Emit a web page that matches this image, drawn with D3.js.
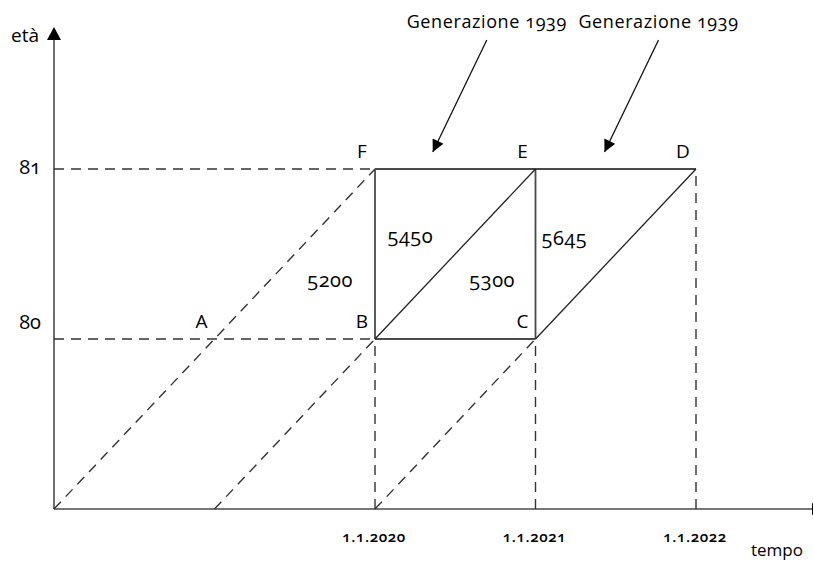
<!DOCTYPE html>
<html>
<head>
<meta charset="utf-8">
<script src="https://cdn.jsdelivr.net/npm/d3@7"></script>
<style>
  body { margin: 0; background: #fff; }
  text { font-family: "Open Sans", sans-serif; font-feature-settings: "onum"; fill: #000; }
</style>
</head>
<body>
<svg id="chart"></svg>
<script>
// tempo (anni) e età
var years = [2020, 2021, 2022];
var yearLabels = ["1.1.2020", "1.1.2021", "1.1.2022"];
var ages = [80, 81];

// punti del diagramma di Lexis [tempo, età]
var pointNames = ["A", "B", "C", "D", "E", "F"];
var pointCoords = [[2019, 80], [2020, 80], [2021, 80], [2022, 81], [2021, 81], [2020, 81]];

// segmenti pieni e tratteggiati [[t0, a0], [t1, a1]]
var solidSegs = [
  [[2020, 81], [2022, 81]],
  [[2020, 80], [2021, 80]],
  [[2020, 80], [2020, 81]],
  [[2021, 80], [2021, 81]],
  [[2020, 80], [2021, 81]],
  [[2021, 80], [2022, 81]]
];
var dashedSegs = [
  [[2018, 81], [2020, 81]],
  [[2018, 80], [2020, 80]],
  [[2018, 79], [2020, 81]],
  [[2019, 79], [2020, 80]],
  [[2020, 79], [2021, 80]],
  [[2020, 79], [2020, 80]],
  [[2021, 79], [2021, 80]],
  [[2022, 79], [2022, 81]]
];

// contatori nelle aree
var counts = [5200, 5450, 5300, 5645];
var countAnchors = [[2019.72, 80.34], [2020.22, 80.6], [2020.73, 80.34], [2021.18, 80.59]];

// generazioni
var genLabels = ["Generazione 1939", "Generazione 1939"];
var genTargets = [[2020.36, 81.1], [2021.43, 81.1]];

var width = 813, height = 563;
var svg = d3.select("#chart").attr("width", width).attr("height", height);

var x = d3.scaleLinear().domain([2018, 2022]).range([54, 696]);
var y = d3.scaleLinear().domain([79, 81]).range([509, 169]);

var lineCol = "#4a4a4a";

svg.append("defs").append("marker")
    .attr("id", "arr")
    .attr("viewBox", "0 0 10 10")
    .attr("refX", 10).attr("refY", 5)
    .attr("markerWidth", 13).attr("markerHeight", 12)
    .attr("markerUnits", "userSpaceOnUse")
    .attr("orient", "auto")
  .append("path")
    .attr("d", "M0,0L10,5L0,10Z")
    .attr("fill", "#000");

// assi
svg.append("line")
    .attr("x1", x(2018)).attr("y1", y(79))
    .attr("x2", x(2018)).attr("y2", 38)
    .attr("stroke", lineCol).attr("stroke-width", 1.6);
svg.append("path")
    .attr("d", "M" + (x(2018) - 7) + ",40L" + x(2018) + ",27L" + (x(2018) + 7) + ",40Z")
    .attr("fill", "#000");
svg.append("line")
    .attr("x1", x(2018)).attr("y1", y(79))
    .attr("x2", 813).attr("y2", y(79))
    .attr("stroke", lineCol).attr("stroke-width", 1.6);
svg.append("path")
    .attr("d", "M812," + (y(79) - 6) + "L824," + y(79) + "L812," + (y(79) + 6) + "Z")
    .attr("fill", "#000");

// segmenti
svg.selectAll(".dash")
    .data(dashedSegs)
  .enter().append("line")
    .attr("class", "dash")
    .attr("x1", function(d) { return x(d[0][0]); })
    .attr("y1", function(d) { return y(d[0][1]); })
    .attr("x2", function(d) { return x(d[1][0]); })
    .attr("y2", function(d) { return y(d[1][1]); })
    .attr("stroke", "#333").attr("stroke-width", 1.4)
    .attr("stroke-dasharray", "10,7");

svg.selectAll(".solid")
    .data(solidSegs)
  .enter().append("line")
    .attr("class", "solid")
    .attr("x1", function(d) { return x(d[0][0]); })
    .attr("y1", function(d) { return y(d[0][1]); })
    .attr("x2", function(d) { return x(d[1][0]); })
    .attr("y2", function(d) { return y(d[1][1]); })
    .attr("stroke", function(d) { return d[0][0] != d[1][0] && d[0][1] != d[1][1] ? "#222" : lineCol; })
    .attr("stroke-width", function(d) { return d[0][0] != d[1][0] && d[0][1] != d[1][1] ? 1.3 : 1.8; });

// etichette assi
svg.append("text").attr("x", 11).attr("y", 42).style("font-size", "19px").text("età");
svg.append("text").attr("x", 803).attr("y", 556).attr("text-anchor", "end").style("font-size", "17px").text("tempo");

svg.selectAll(".agelab")
    .data(ages)
  .enter().append("text")
    .attr("class", "agelab")
    .attr("x", 41)
    .attr("y", function(d, i) { return y(d) + (i == 1 ? 5 : -10); })
    .attr("text-anchor", "end")
    .style("font-size", "20px")
    .text(function(d) { return d; });

svg.selectAll(".yearlab")
    .data(years)
  .enter().append("text")
    .attr("class", "yearlab")
    .attr("x", function(d) { return x(d) - 1; })
    .attr("y", 542)
    .attr("text-anchor", "middle")
    .style("font-size", "15px").style("font-weight", "600")
    .style("letter-spacing", "0.6px")
    .text(function(d, i) { return yearLabels[i]; });

// lettere dei punti
svg.selectAll(".pt")
    .data(pointNames)
  .enter().append("text")
    .attr("class", "pt")
    .attr("x", function(d, i) { return x(pointCoords[i][0]) - 13; })
    .attr("y", function(d, i) { return y(pointCoords[i][1]) - 11; })
    .attr("text-anchor", "middle")
    .style("font-size", "19px")
    .text(function(d) { return d; });

// contatori
svg.selectAll(".cnt")
    .data(counts)
  .enter().append("text")
    .attr("class", "cnt")
    .attr("x", function(d, i) { return x(countAnchors[i][0]); })
    .attr("y", function(d, i) { return y(countAnchors[i][1]) + 6; })
    .attr("text-anchor", "middle")
    .style("font-size", "20px")
    .style("letter-spacing", "0.5px")
    .text(function(d) { return d; });

// generazioni con frecce
var gen = svg.selectAll(".gen")
    .data(genLabels)
  .enter().append("g")
    .attr("class", "gen");
gen.append("text")
    .attr("x", function(d, i) { return x(genTargets[i][0]) + 54; })
    .attr("y", 28)
    .attr("text-anchor", "middle")
    .style("font-size", "18px")
    .style("letter-spacing", "0.6px")
    .text(function(d) { return d; });
gen.append("line")
    .attr("x1", function(d, i) { return x(genTargets[i][0]) + 54; })
    .attr("y1", 40)
    .attr("x2", function(d, i) { return x(genTargets[i][0]); })
    .attr("y2", function(d, i) { return y(genTargets[i][1]); })
    .attr("stroke", "#111").attr("stroke-width", 1.3)
    .attr("marker-end", "url(#arr)");
</script>
</body>
</html>
